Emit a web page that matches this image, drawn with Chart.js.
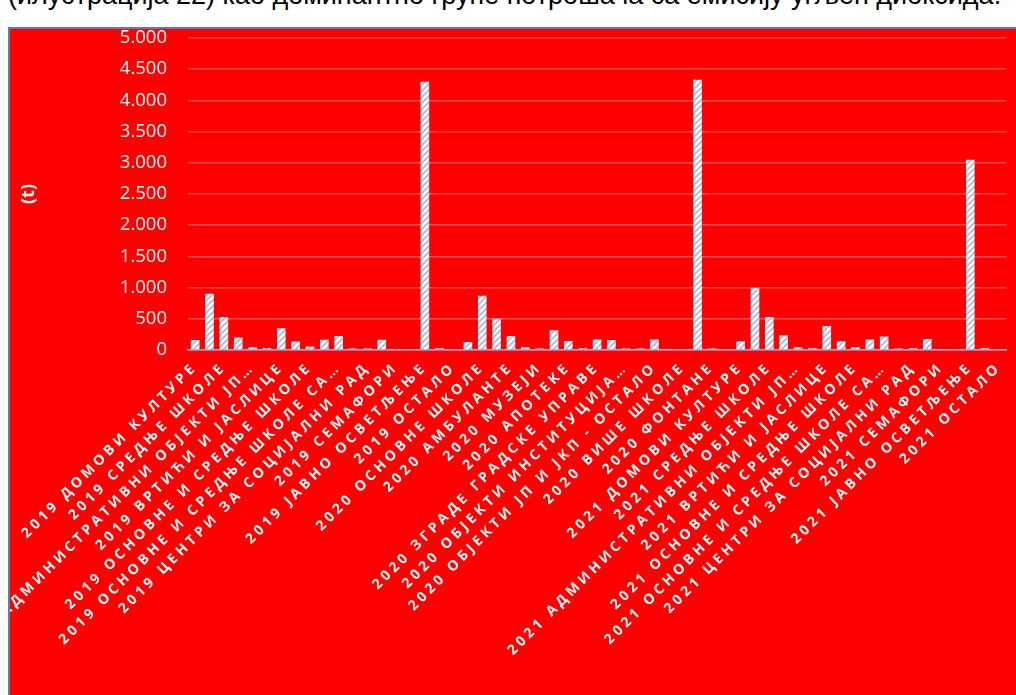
<!DOCTYPE html>
<html lang="sr">
<head>
    <meta charset="UTF-8">
    <title>Емисија CO2 по групама потрошача</title>
    <script src="https://cdn.jsdelivr.net/npm/chart.js"></script>
    <style>
        html, body { margin: 0; padding: 0; background: #fff; width: 1016px; height: 695px; overflow: hidden; position: relative; }
        .caption {
            position: absolute; left: 8px; top: -20px;
            font-family: "Liberation Sans", Arial, sans-serif; font-size: 27px; line-height: 30px;
            color: #000; white-space: nowrap;
        }
        .chart-box {
            position: absolute; left: 8px; top: 27px;
            border-left: 2px solid #4f81bd; border-top: 2px solid #4f81bd;
            width: 1010px; height: 666px; background: #ff0000;
        }
        canvas { display: block; }
    </style>
</head>
<body>
    <div class="caption">(илустрација 22) као доминантно групе потрошача са емисију угљен диоксида.</div>
    <div class="chart-box">
        <canvas id="co2Chart" width="1010" height="666"></canvas>
    </div>

    <script>
        // consumer groups, same order in every year
        const groups = [
            'ДОМОВИ КУЛТУРЕ', 'ОСНОВНЕ ШКОЛЕ', 'СРЕДЊЕ ШКОЛЕ', 'АМБУЛАНТЕ',
            'АДМИНИСТРАТИВНИ ОБЈЕКТИ ЈП…', 'МУЗЕЈИ', 'ВРТИЋИ И ЈАСЛИЦЕ', 'АПОТЕКЕ',
            'ОСНОВНЕ И СРЕДЊЕ ШКОЛЕ', 'ЗГРАДЕ ГРАДСКЕ УПРАВЕ', 'ОСНОВНЕ И СРЕДЊЕ ШКОЛЕ СА…',
            'ОБЈЕКТИ ИНСТИТУЦИЈА…', 'ЦЕНТРИ ЗА СОЦИЈАЛНИ РАД', 'ОБЈЕКТИ ЈП И ЈКП - ОСТАЛО',
            'СЕМАФОРИ', 'ВИШЕ ШКОЛЕ', 'ЈАВНО ОСВЕТЉЕЊЕ', 'ФОНТАНЕ', 'ОСТАЛО'
        ];
        const years = ['2019', '2020', '2021'];

        // emissions in tonnes
        const values2019 = [160, 900, 525, 200, 45, 30, 350, 135, 55, 165, 225, 25, 25, 165, 15, 0, 4300, 30, 0];
        const values2020 = [130, 870, 500, 225, 45, 25, 315, 145, 30, 170, 160, 25, 25, 170, 15, 0, 4330, 25, 0];
        const values2021 = [140, 995, 530, 235, 45, 30, 385, 140, 45, 170, 215, 25, 30, 175, 15, 0, 3050, 30, 0];

        const yTicks = [0, 500, 1000, 1500, 2000, 2500, 3000, 3500, 4000, 4500, 5000];

        const labels = years.flatMap(y => groups.map(g => y + ' ' + g));
        const values = [].concat(values2019, values2020, values2021);

        // white bars with thin blue diagonal stripes
        function stripePattern() {
            const c = document.createElement('canvas');
            c.width = 6; c.height = 6;
            const p = c.getContext('2d');
            p.fillStyle = '#ffffff';
            p.fillRect(0, 0, 6, 6);
            p.strokeStyle = '#9dbbe2';
            p.lineWidth = 1.6;
            p.beginPath();
            p.moveTo(-3, 3); p.lineTo(3, -3);
            p.moveTo(0, 6); p.lineTo(6, 0);
            p.moveTo(3, 9); p.lineTo(9, 3);
            p.stroke();
            return p.createPattern(c, 'repeat');
        }

        // wide letter spacing on the category labels only
        const spacedLabels = {
            id: 'spacedLabels',
            beforeDraw(chart) {
                const sx = chart.scales.x;
                if (sx._spaced) return;
                const orig = sx.drawLabels;
                sx.drawLabels = function (area) {
                    this.ctx.save();
                    this.ctx.letterSpacing = '3.8px';
                    orig.call(this, area);
                    this.ctx.restore();
                };
                sx._spaced = true;
            }
        };

        const ctx = document.getElementById('co2Chart').getContext('2d');
        new Chart(ctx, {
            type: 'bar',
            data: {
                labels: labels,
                datasets: [{
                    label: 't',
                    data: values,
                    backgroundColor: stripePattern(),
                    borderWidth: 0,
                    categoryPercentage: 1.0,
                    barPercentage: 0.6
                }]
            },
            options: {
                responsive: false,
                animation: false,
                layout: { padding: { left: 0, right: 11, top: 0, bottom: 0 } },
                plugins: {
                    legend: { display: false },
                    tooltip: { enabled: false }
                },
                scales: {
                    x: {
                        grid: { display: false, drawTicks: false },
                        border: { display: true, color: '#8eaadb', width: 1.5 },
                        ticks: {
                            autoSkip: false,
                            minRotation: 45,
                            maxRotation: 45,
                            padding: 9,
                            color: '#ffffff',
                            font: { family: '"Open Sans"', size: 14, weight: 'bold' },
                            callback: function (v, i) {
                                return i % 2 === 0 ? this.getLabelForValue(v) : '';
                            }
                        },
                        afterFit: s => { s.height = 345; }
                    },
                    y: {
                        min: 0,
                        max: 5000,
                        afterBuildTicks: s => { s.ticks = yTicks.map(v => ({ value: v })); },
                        grid: { color: 'rgba(255,255,255,0.3)', lineWidth: 1.5, drawTicks: false },
                        border: { display: false },
                        ticks: {
                            padding: 21,
                            color: '#ffffff',
                            font: { family: '"Open Sans"', size: 18.5, lineHeight: 1.0 },
                            callback: v => v.toLocaleString('de-DE')
                        },
                        title: {
                            display: true,
                            text: '(t)',
                            color: '#ffffff',
                            font: { family: '"Open Sans"', size: 18, weight: 'bold' },
                            padding: { top: 8, bottom: 0 }
                        },
                        // fixed width; keep the top margin to half a label, not label + padding
                        afterFit: s => { s.width = 178; s.paddingTop = 9; s.paddingBottom = 9; }
                    }
                }
            },
            plugins: [spacedLabels]
        });
    </script>
</body>
</html>
